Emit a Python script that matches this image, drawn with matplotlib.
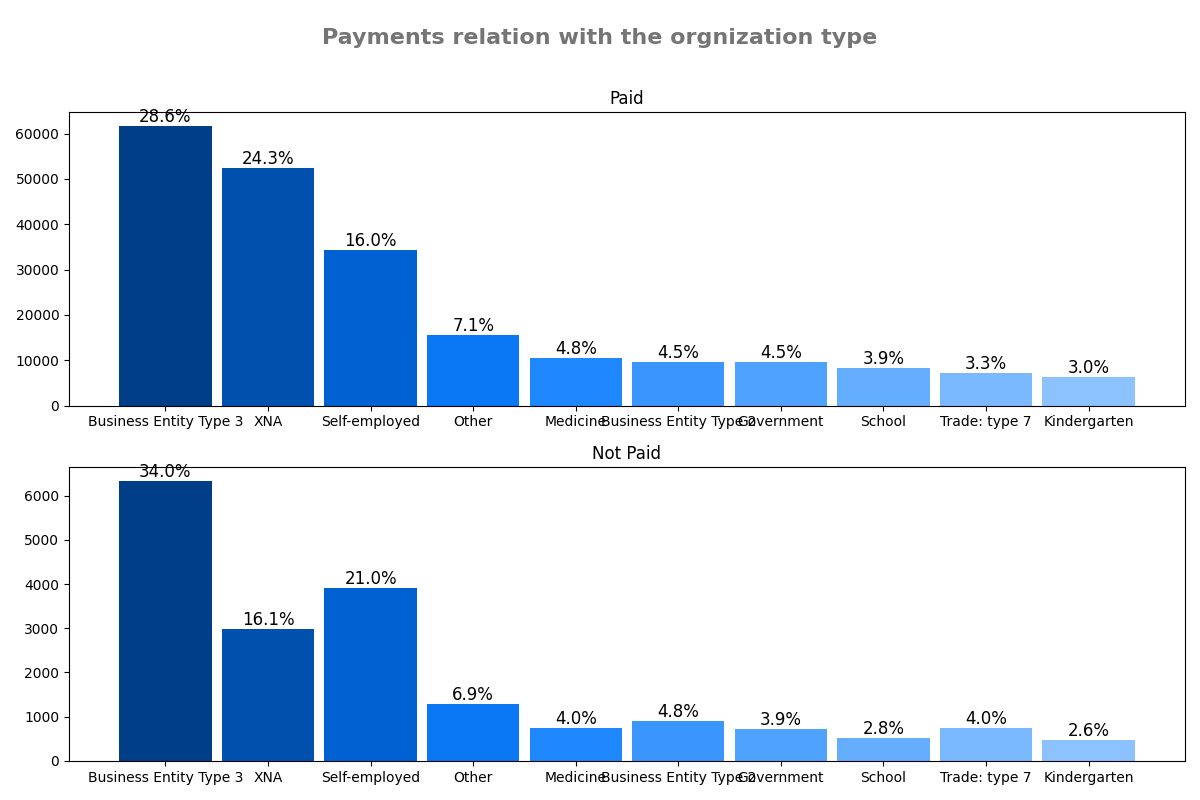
import matplotlib.pyplot as plt

categories = ["Business Entity Type 3", "XNA", "Self-employed", "Other", "Medicine",
              "Business Entity Type 2", "Government", "School", "Trade: type 7", "Kindergarten"]
paid_counts = [61700, 52500, 34300, 15500, 10400, 9700, 9700, 8400, 7100, 6400]
paid_pct = [28.6, 24.3, 16.0, 7.1, 4.8, 4.5, 4.5, 3.9, 3.3, 3.0]
notpaid_counts = [6330, 2990, 3910, 1280, 740, 900, 730, 520, 740, 480]
notpaid_pct = [34.0, 16.1, 21.0, 6.9, 4.0, 4.8, 3.9, 2.8, 4.0, 2.6]

colori = ["#003f88", "#0050ae", "#0062d2", "#0a78f5", "#2088ff",
          "#3a95ff", "#4fa2ff", "#64adff", "#7ab8ff", "#8cc2ff"]

fig, axes = plt.subplots(2, 1, figsize=(12, 8), dpi=100)
fig.suptitle("Payments relation with the orgnization type", fontsize=16,
             fontweight="bold", color="#757575", y=0.965)

for ax, counts, pct, titolo in [(axes[0], paid_counts, paid_pct, "Paid"),
                                (axes[1], notpaid_counts, notpaid_pct, "Not Paid")]:
    x = range(len(categories))
    bars = ax.bar(x, counts, width=0.9, color=colori)
    for b, p in zip(bars, pct):
        ax.text(b.get_x() + b.get_width() / 2, b.get_height(), f"{p:.1f}%",
                ha="center", va="bottom", fontsize=12)
    ax.set_xticks(list(x))
    ax.set_xticklabels(categories)
    ax.set_xlim(-0.94, 9.94)
    ax.set_title(titolo)

plt.subplots_adjust(left=0.0575, right=0.9875, top=0.86, bottom=0.049, hspace=0.21)
plt.savefig("out.png")
